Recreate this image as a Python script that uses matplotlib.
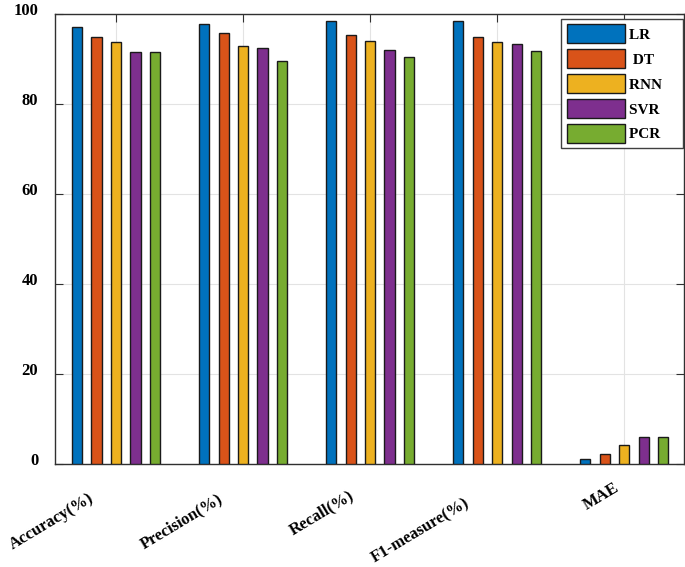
import matplotlib
matplotlib.use("Agg")
import matplotlib.pyplot as plt
import matplotlib.transforms as mtransforms
import numpy as np

categories = ["Accuracy(%)", "Precision(%)", "Recall(%)", "F1-measure(%)", "MAE"]
series_names = ["LR", " DT", "RNN", "SVR", "PCR"]
LR = [97.2, 97.8, 98.4, 98.4, 1.1]
DT = [94.9, 95.8, 95.4, 94.9, 2.3]
RNN = [93.8, 93.0, 93.9, 93.8, 4.3]
SVR = [91.6, 92.5, 92.1, 93.4, 5.9]
PCR = [91.6, 89.5, 90.5, 91.8, 6.1]
series = [LR, DT, RNN, SVR, PCR]
yticks = [0, 20, 40, 60, 80, 100]

colors = ["#0072BD", "#D95319", "#EDB120", "#7E2F8E", "#77AC30"]
# per-label pixel offsets (dx from tick, dy below axis) for the rotated x labels
label_offsets = [(-28, 26), (-26, 27), (-22, 23), (-33, 31), (-11, 16)]

W, H = 685, 567
fig = plt.figure(figsize=(W / 100, H / 100), dpi=100)
ax = fig.add_axes([55 / W, (H - 464) / H, 629 / W, 450 / H])

font = {"family": "Liberation Serif", "weight": "bold"}

x = np.arange(1, len(categories) + 1)
step = 0.153
width = 0.08
for i, (vals, name, c) in enumerate(zip(series, series_names, colors)):
    off = (i - 2) * step
    ax.bar(x + off, vals, width, color=c, edgecolor="#1a1a1a", linewidth=1.0,
           label=name + "    ", zorder=3)

ax.set_xlim(0.52, 5.47)
ax.set_ylim(0, 100)
ax.set_xticks(x)
ax.set_yticks(yticks)
ax.set_yticklabels([str(t) for t in yticks], fontdict=font, fontsize=12)
ax.set_xticklabels(categories, fontdict=font, fontsize=12, rotation=31,
                   ha="right", rotation_mode="anchor")

ax.grid(True, color="#e3e3e3", linewidth=0.8, zorder=0)
ax.set_axisbelow(True)
for s in ax.spines.values():
    s.set_color("#303030")
    s.set_linewidth(1.0)
ax.tick_params(axis="both", direction="in", length=6, color="#303030",
               top=True, right=True)
ax.tick_params(axis="x", pad=0)
ax.tick_params(axis="y", pad=12)

for lab, (ddx, ddy) in zip(ax.get_xticklabels(), label_offsets):
    t = mtransforms.ScaledTranslation(ddx / 100, -ddy / 100, fig.dpi_scale_trans)
    lab.set_transform(lab.get_transform() + t)
dy = mtransforms.ScaledTranslation(0, 5 / 100, fig.dpi_scale_trans)
for lab in ax.get_yticklabels():
    lab.set_transform(lab.get_transform() + dy)

leg = ax.legend(loc="upper right", bbox_to_anchor=(683 / W, 1 - 19 / H),
                bbox_transform=fig.transFigure,
                prop={"family": "Liberation Serif", "weight": "bold", "size": 11},
                handlelength=3.8, handleheight=1.53, labelspacing=0.39,
                handletextpad=0.3, borderpad=0.35, borderaxespad=0,
                fancybox=False, framealpha=1, edgecolor="#404040")
leg.get_frame().set_linewidth(1.0)

fig.savefig("out.png", dpi=100)
